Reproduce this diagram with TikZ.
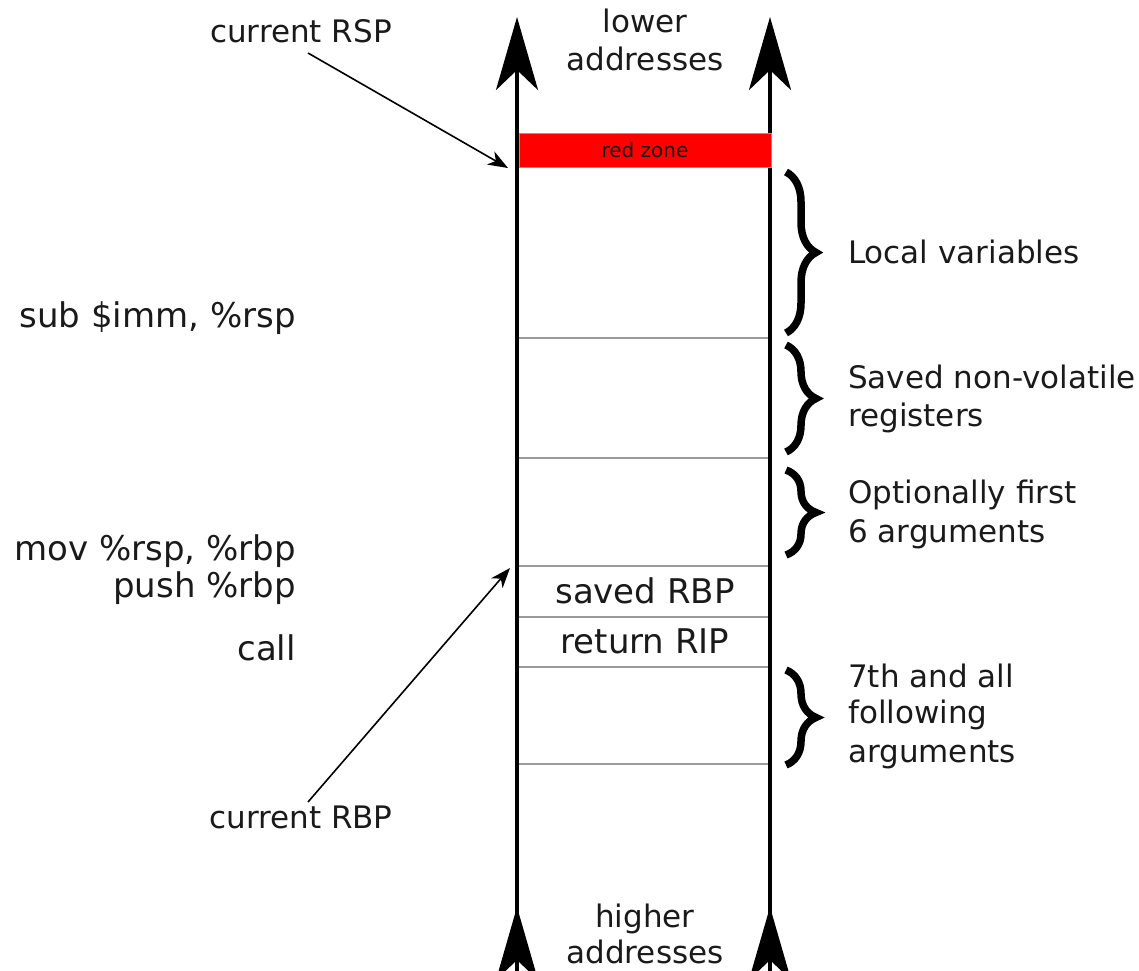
\documentclass[tikz,border=0pt]{standalone}
\usepackage{fontspec}
\setmainfont{DejaVu Sans}
\usetikzlibrary{arrows.meta,decorations.pathreplacing}
\definecolor{ink}{HTML}{1A1A1A}
\definecolor{rule}{HTML}{9A9A9A}
\begin{document}
\begin{tikzpicture}[x=1pt,y=-1pt,
  txt/.style={font=\fontsize{31}{38}\selectfont, text=ink, inner sep=0pt, align=left},
  big/.style={font=\fontsize{34}{40}\selectfont, text=ink, inner sep=0pt},
  small/.style={font=\fontsize{20}{24}\selectfont, text=ink, inner sep=0pt},
  axis/.style={line width=4pt, -{Stealth[length=73pt,width=42pt,inset=20pt]}},
  divider/.style={rule, line width=1.6pt},
  ptr/.style={line width=1.6pt, -{Stealth[length=20pt,width=15pt,inset=6pt]}},
  curly/.style={line width=7.5pt, decorate, decoration={brace, amplitude=30pt}}
]
\useasboundingbox (0,0) rectangle (1139,970);

% the two walls of the stack
\draw[axis] (517,975) -- (517,17);
\draw[axis] (770,975) -- (770,17);
\draw[axis] (517,1000) -- (517,907);
\draw[axis] (770,1000) -- (770,907);

% red zone
\node[draw=rule, line width=1.2pt, fill=red, minimum width=252pt, minimum height=34pt,
      inner sep=0pt, anchor=north west] (redzone) at (519,133) {};
\node[small, anchor=base] (redlbl) at (645,157) {red zone};

% frame dividers
\foreach \y/\n in {338/d1,458/d2,566/d3,617/d4,667/d5,764/d6}{
  \coordinate (\n l) at (519,\y);
  \coordinate (\n r) at (768,\y);
  \draw[divider] (\n l) -- (\n r);
}

% address direction labels
\node[txt, anchor=base] (low1) at (645,32) {lower};
\node[txt, anchor=base] (low2) at (645,70) {addresses};
\node[txt, anchor=base] (high1) at (645,927) {higher};
\node[txt, anchor=base] (high2) at (645,963) {addresses};

% slots
\node[big, anchor=base] (savedrbp) at (645,603) {saved RBP};
\node[big, anchor=base] (retrip) at (645,653) {return RIP};

% instructions
\node[big, anchor=base east] (sub) at (296,327) {sub \$imm, \%rsp};
\node[big, anchor=base east] (mov) at (296,560) {mov \%rsp, \%rbp};
\node[big, anchor=base east] (push) at (296,597) {push \%rbp};
\node[big, anchor=base east] (call) at (296,660) {call};

% pointers
\node[txt, anchor=base] (rsp) at (301,42) {current RSP};
\node[txt, anchor=base] (rbp) at (301,828) {current RBP};
\coordinate (rsptip) at (508,168);
\coordinate (rbptip) at (510,568);
\draw[ptr] ([xshift=7pt,yshift=-11pt]rsp.base) -- (rsptip);
\draw[ptr] ([xshift=7pt,yshift=26pt]rbp.base) -- (rbptip);

% region braces
\coordinate (b1t) at (786,172); \coordinate (b1b) at (786,333);
\coordinate (b2t) at (786,345); \coordinate (b2b) at (786,452);
\coordinate (b3t) at (786,470); \coordinate (b3b) at (786,555);
\coordinate (b4t) at (786,670); \coordinate (b4b) at (786,765);
\draw[curly] (b1t) -- (b1b);
\draw[curly] (b2t) -- (b2b);
\draw[curly] (b3t) -- (b3b);
\draw[curly] (b4t) -- (b4b);

\node[txt, anchor=base west] (locals) at (848,263) {Local variables};
\node[txt, anchor=base west] (nonvol1) at (848,388) {Saved non-volatile};
\node[txt, anchor=base west] (nonvol2) at (848,426) {registers};
\node[txt, anchor=base west] (opt1) at (848,503) {Optionally first};
\node[txt, anchor=base west] (opt2) at (848,542) {6 arguments};
\node[txt, anchor=base west] (rest1) at (848,687) {7th and all};
\node[txt, anchor=base west] (rest2) at (848,723) {following};
\node[txt, anchor=base west] (rest3) at (848,762) {arguments};
\end{tikzpicture}
\end{document}
